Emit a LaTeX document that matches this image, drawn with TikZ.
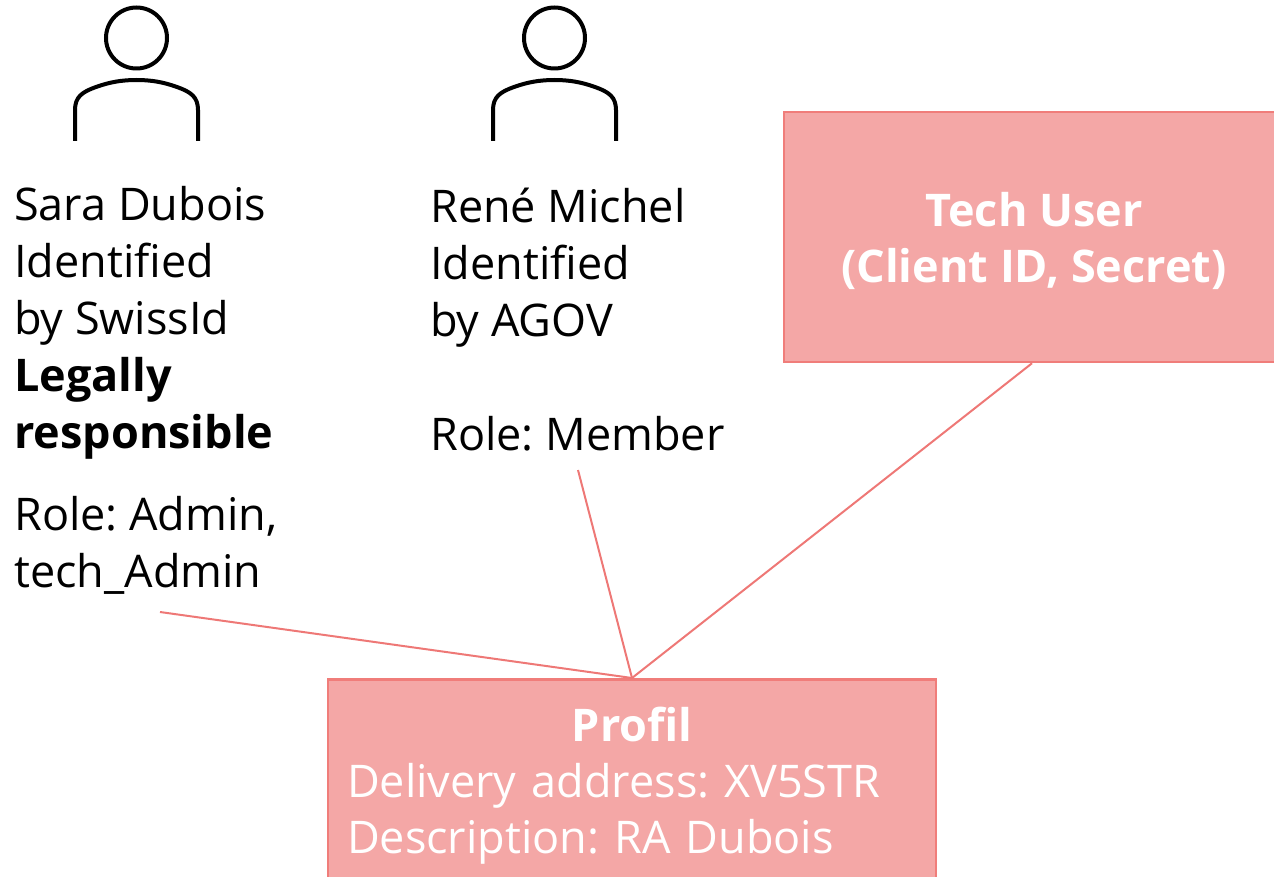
\documentclass[tikz,border=0pt]{standalone}
\usepackage{fontspec}
\setmainfont{Open Sans}
\frenchspacing
\definecolor{boxfill}{RGB}{244,167,166}
\definecolor{boxline}{RGB}{240,125,122}
\definecolor{connline}{RGB}{238,120,118}
\begin{document}
\begin{tikzpicture}[x=1pt,y=-1pt,
  person/.style={line width=4pt,black},
  conn/.style={draw=connline,line width=2pt},
  pinkbox/.style={draw=boxline,fill=boxfill,line width=2.5pt,text=white},
  label/.style={inner sep=0pt,anchor=north west,align=left,font=\fontsize{45}{57}\selectfont}
]
\useasboundingbox (0,0) rectangle (1274,877);
% person icons
\foreach \dx/\nm in {0/pa,418/pb}{
  \begin{scope}[xshift=\dx pt]
    \draw[person] (136.5,38) circle[radius=30.5];
    \draw[person] (75,141) -- (75,110) .. controls (75,97) and (82,92) .. (96,87)
      .. controls (110,82) and (122,80) .. (136.5,80)
      .. controls (151,80) and (163,82) .. (177,87)
      .. controls (191,92) and (198,97) .. (198,110) -- (198,141);
  \end{scope}
}
% texts
\node[label] (sara) at (14,185) {\rule{0pt}{35pt}Sara Dubois\\Identified\\by SwissId\\\textbf{Legally}\\\textbf{responsible}};
\node[label] (sararole) at (14,495) {\rule{0pt}{35pt}Role: Admin,\\tech\_Admin};
\node[label] (rene) at (430,187) {\rule{0pt}{35pt}René Michel\\Identified\\by AGOV\\[57pt]Role: Member};
% boxes
\node[pinkbox,minimum width=500pt,minimum height=250pt,align=center,
  font=\fontsize{45}{56}\selectfont\bfseries] (tech) at (1034,237) {\rule{0pt}{42pt}Tech User\\(Client ID, Secret)};
\node[pinkbox,anchor=north,text width=570pt,align=left,inner xsep=19pt,inner ysep=28pt,
  font=\fontsize{45}{56}\selectfont] (profil) at (632,678)
  {\makebox[570pt]{\bfseries Profil}\\Delivery address: XV5STR\\Description: RA Dubois};
% connectors
\coordinate (saraend) at (160,612);
\coordinate (reneend) at (578,470);
\draw[conn] (saraend) -- (profil.north);
\draw[conn] (reneend) -- (profil.north);
\draw[conn] (tech.south -| 1032,0) -- (profil.north);
\end{tikzpicture}
\end{document}
